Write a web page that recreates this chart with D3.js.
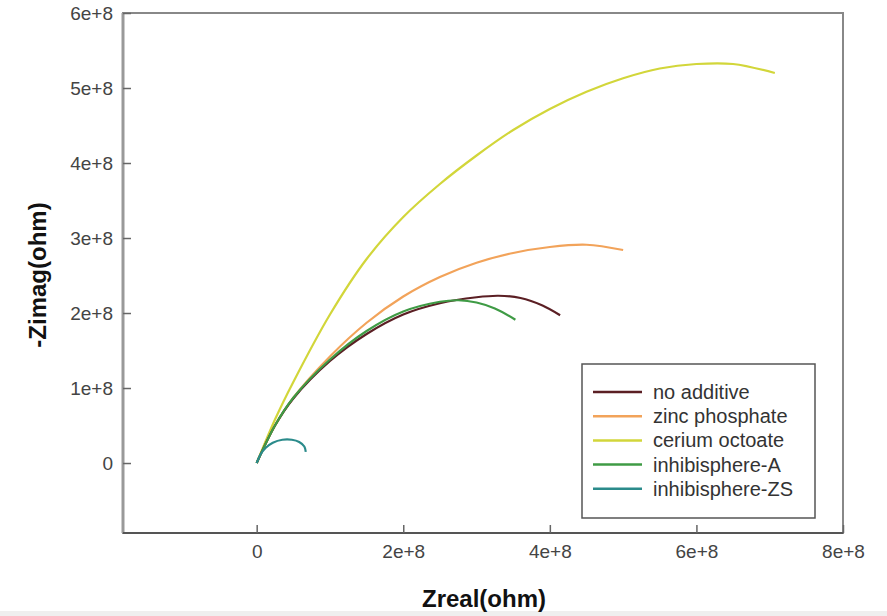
<!DOCTYPE html>
<html lang="en">
	<head>
		<meta charset="utf-8">
		<title>Nyquist plot</title>
		<script type="text/javascript" src="https://d3js.org/d3.v7.min.js"></script>
		<style type="text/css">
			body { margin:0; background:white; }
			svg { display:block; }
			.axis text {
				font-family: "Liberation Sans", Arial, sans-serif;
				font-size: 19px;
				fill: #444;
			}
			.axis line { stroke: #666; stroke-width: 1.5; }
			.title {
				font-family: "Liberation Sans", Arial, sans-serif;
				font-weight: bold;
				font-size: 24px;
				fill: #111;
			}
			.legend text {
				font-family: "Liberation Sans", Arial, sans-serif;
				font-size: 20px;
				fill: #333;
			}
		</style>
	</head>
	<body>
		<svg id="chart"></svg>
		<script type="text/javascript">
			// series names and colours (legend order)
			var seriesNames = ["no additive","zinc phosphate","cerium octoate","inhibisphere-A","inhibisphere-ZS"];
			var seriesColors = ["#5b1f24","#f2a35a","#d2d63a","#3f9b45","#2b8b8b"];

			// Zreal / Zimag values in ohm
			var noAdditiveX = [0,0.25e8,0.5e8,1.0e8,1.5e8,2.0e8,2.5e8,3.0e8,3.3e8,3.6e8,3.9e8,4.14e8];
			var noAdditiveY = [0,0.5e8,0.86e8,1.36e8,1.72e8,1.98e8,2.13e8,2.21e8,2.23e8,2.2e8,2.1e8,1.97e8];

			var zincX = [0,0.25e8,0.5e8,1.0e8,1.5e8,2.0e8,2.5e8,3.0e8,3.5e8,4.0e8,4.5e8,5.0e8];
			var zincY = [0,0.5e8,0.87e8,1.42e8,1.87e8,2.22e8,2.48e8,2.67e8,2.8e8,2.88e8,2.91e8,2.84e8];

			var ceriumX = [0,0.25e8,0.5e8,1.0e8,1.5e8,2.0e8,2.5e8,3.0e8,3.5e8,4.0e8,4.5e8,5.0e8,5.5e8,6.0e8,6.5e8,7.07e8];
			var ceriumY = [0,0.58e8,1.08e8,1.98e8,2.72e8,3.28e8,3.72e8,4.1e8,4.44e8,4.72e8,4.95e8,5.13e8,5.26e8,5.32e8,5.32e8,5.2e8];

			var inhibAX = [0,0.25e8,0.5e8,1.0e8,1.5e8,2.0e8,2.5e8,2.75e8,3.0e8,3.25e8,3.53e8];
			var inhibAY = [0,0.5e8,0.87e8,1.38e8,1.76e8,2.02e8,2.15e8,2.17e8,2.14e8,2.06e8,1.91e8];

			var inhibZSX = [0,0.05e8,0.12e8,0.22e8,0.35e8,0.48e8,0.58e8,0.65e8,0.67e8];
			var inhibZSY = [0,0.11e8,0.2e8,0.27e8,0.31e8,0.31e8,0.28e8,0.22e8,0.15e8];

			var xTicks = [0,2e8,4e8,6e8,8e8];
			var yTicks = [0,1e8,2e8,3e8,4e8,5e8,6e8];

			var allX = [noAdditiveX,zincX,ceriumX,inhibAX,inhibZSX];
			var allY = [noAdditiveY,zincY,ceriumY,inhibAY,inhibZSY];

			var w=887;
			var h=616;
			var plot={left:123,right:843,top:13,bottom:533};

			var svg = d3.select("#chart").attr("width",w).attr("height",h);

			svg.append("rect").attr("x",0).attr("y",611).attr("width",w).attr("height",5).attr("fill","#efefef");

			var xScale = d3.scaleLinear()
				.domain([-1.824e8,8e8])
				.range([plot.left,plot.right]);

			var yScale = d3.scaleLinear()
				.domain([-0.933e8,6e8])
				.range([plot.bottom,plot.top]);

			var tickFmt = function(d){ return d===0 ? "0" : (d/1e8)+"e+8"; };

			// plot frame
			svg.append("rect")
				.attr("x",plot.left).attr("y",plot.top)
				.attr("width",plot.right-plot.left).attr("height",plot.bottom-plot.top)
				.attr("fill","white").attr("stroke","#888").attr("stroke-width",2);
			svg.append("line")
				.attr("x1",plot.left).attr("x2",plot.left)
				.attr("y1",plot.top).attr("y2",plot.bottom)
				.attr("stroke","#999").attr("stroke-width",3);
			svg.append("line")
				.attr("x1",plot.left).attr("x2",plot.right)
				.attr("y1",plot.bottom).attr("y2",plot.bottom)
				.attr("stroke","#555").attr("stroke-width",2);

			var xAxis = d3.axisBottom(xScale)
				.tickValues(xTicks)
				.tickFormat(tickFmt)
				.tickSizeInner(-8)
				.tickSizeOuter(0)
				.tickPadding(12);

			var yAxis = d3.axisLeft(yScale)
				.tickValues(yTicks)
				.tickFormat(tickFmt)
				.tickSizeInner(-8)
				.tickSizeOuter(0)
				.tickPadding(10);

			svg.append("g")
				.attr("class","axis")
				.attr("transform","translate(0,"+plot.bottom+")")
				.call(xAxis)
				.call(g=>g.select(".domain").remove());

			svg.append("g")
				.attr("class","axis")
				.attr("transform","translate("+plot.left+",0)")
				.call(yAxis)
				.call(g=>g.select(".domain").remove());

			// curves
			var line = d3.line()
				.x(d=>xScale(d[0]))
				.y(d=>yScale(d[1]))
				.curve(d3.curveCatmullRom.alpha(0.5));

			var seriesData = allX.map(function(xs,i){
				return xs.map(function(x,j){ return [x,allY[i][j]]; });
			});

			// cerium first, so the bundle of the others sits on top
			var drawOrder = [2,1,0,3,4];
			svg.selectAll("path.curve")
				.data(drawOrder)
				.enter()
				.append("path")
				.attr("class","curve")
				.attr("d",i=>line(seriesData[i]))
				.attr("fill","none")
				.attr("stroke",i=>seriesColors[i])
				.attr("stroke-width",2.2);

			// legend
			var legend = svg.append("g").attr("class","legend");
			legend.append("rect")
				.attr("x",582).attr("y",364).attr("width",233).attr("height",154)
				.attr("fill","white").attr("stroke","#555").attr("stroke-width",1.5);

			var rows = legend.selectAll("g.row")
				.data(seriesNames)
				.enter()
				.append("g")
				.attr("class","row")
				.attr("transform",(d,i)=>"translate(0,"+(392+i*24.2)+")");

			rows.append("line")
				.attr("x1",593).attr("x2",642)
				.attr("y1",0).attr("y2",0)
				.attr("stroke",(d,i)=>seriesColors[i])
				.attr("stroke-width",2.5);

			rows.append("text")
				.attr("x",653)
				.attr("y",7)
				.text(d=>d);

			// axis titles
			svg.append("text")
				.attr("class","title")
				.attr("x",484)
				.attr("y",607)
				.attr("text-anchor","middle")
				.text("Zreal(ohm)");

			svg.append("text")
				.attr("class","title")
				.attr("transform","translate(46,275) rotate(-90)")
				.attr("text-anchor","middle")
				.text("-Zimag(ohm)");
		</script>
	</body>
</html>
